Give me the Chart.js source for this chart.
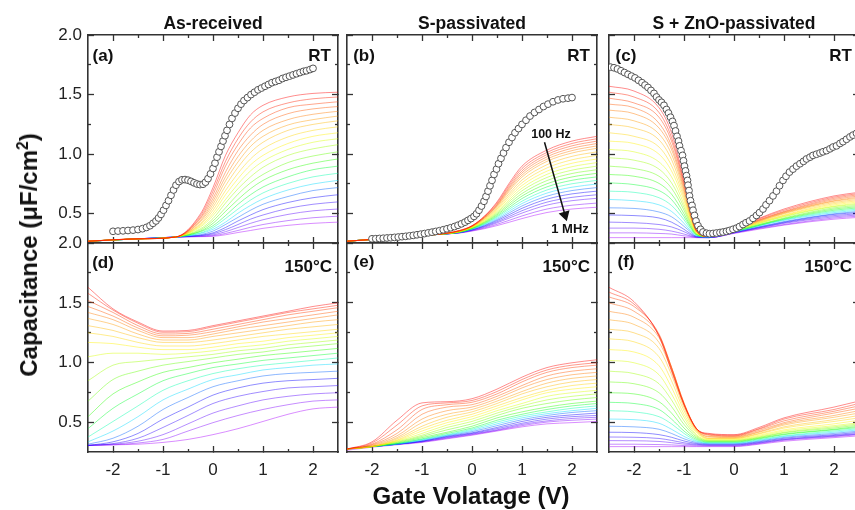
<!DOCTYPE html>
<html>
<head>
<meta charset="utf-8">
<script src="https://cdn.jsdelivr.net/npm/chart.js@4"></script>
<style>
    html, body { margin: 0; padding: 0; background: #fff; overflow: hidden; width: 855px; height: 510px; position: relative; font-family: "Liberation Sans", Arial, sans-serif; }
    canvas { position: absolute; }
    .t { position: absolute; font-weight: bold; color: #111; white-space: nowrap; line-height: 1; z-index: 5; }
    .c { transform: translate(-50%, -50%); }
    .r { transform: translateY(-50%); }
</style>
</head>
<body>
<div class="t c" style="left:213px;top:24px;font-size:17.5px">As-received</div>
<div class="t c" style="left:472px;top:24px;font-size:17.5px">S-passivated</div>
<div class="t c" style="left:734px;top:24px;font-size:17.5px">S + ZnO-passivated</div>

<div class="t c" style="left:103px;top:55px;font-size:17px">(a)</div>
<div class="t c" style="left:364px;top:55px;font-size:17px">(b)</div>
<div class="t c" style="left:626px;top:55px;font-size:17px">(c)</div>
<div class="t c" style="left:103px;top:262px;font-size:17px">(d)</div>
<div class="t c" style="left:364px;top:261px;font-size:17px">(e)</div>
<div class="t c" style="left:626px;top:261px;font-size:17px">(f)</div>

<div class="t r" style="right:524px;top:55px;font-size:17px">RT</div>
<div class="t r" style="right:265px;top:55px;font-size:17px">RT</div>
<div class="t r" style="right:3px;top:55px;font-size:17px">RT</div>
<div class="t r" style="right:523px;top:266px;font-size:17px">150°C</div>
<div class="t r" style="right:265px;top:266px;font-size:17px">150°C</div>
<div class="t r" style="right:3px;top:266px;font-size:17px">150°C</div>

<div class="t c" style="left:551px;top:134px;font-size:12.5px">100 Hz</div>
<div class="t c" style="left:570px;top:228px;font-size:13px">1 MHz</div>

<div class="t" style="left:28px;top:255px;font-size:24px;transform:translate(-50%,-50%) rotate(-90deg)">Capacitance (μF/cm<sup style="font-size:0.65em">2</sup>)</div>
<div class="t c" style="left:471px;top:496px;font-size:24px">Gate Volatage (V)</div>

<script>
// axis ticks
const xMajor = [-2, -1, 0, 1, 2];
const xMinor = [-1.5, -0.5, 0.5, 1.5];
const yMajor = [0.5, 1.0, 1.5, 2.0];
const yMinor = [0.75, 1.25, 1.75];

// (a) as-received, RT
const gridA = [-2.5, -1.5, -0.75, -0.25, 0, 0.25, 0.5, 0.75, 1, 1.5, 2, 2.5];
const curvesA = [
    [0.27,0.29,0.305,0.50,0.72,0.99,1.18,1.33,1.41,1.48,1.51,1.52],
    [0.27,0.29,0.305,0.485,0.69,0.94,1.13,1.27,1.355,1.43,1.465,1.48],
    [0.27,0.29,0.305,0.47,0.66,0.90,1.08,1.22,1.30,1.39,1.42,1.44],
    [0.27,0.29,0.305,0.46,0.63,0.85,1.03,1.16,1.25,1.34,1.38,1.40],
    [0.27,0.29,0.305,0.445,0.605,0.81,0.98,1.11,1.20,1.29,1.335,1.36],
    [0.27,0.29,0.305,0.435,0.58,0.775,0.935,1.065,1.15,1.245,1.29,1.32],
    [0.27,0.29,0.305,0.42,0.555,0.735,0.89,1.015,1.10,1.20,1.25,1.28],
    [0.27,0.29,0.305,0.41,0.53,0.695,0.84,0.96,1.045,1.145,1.20,1.23],
    [0.27,0.29,0.305,0.40,0.505,0.66,0.795,0.91,0.99,1.09,1.15,1.18],
    [0.27,0.29,0.305,0.39,0.485,0.62,0.75,0.86,0.94,1.04,1.10,1.13],
    [0.27,0.29,0.305,0.375,0.46,0.59,0.71,0.81,0.89,0.99,1.045,1.08],
    [0.27,0.29,0.305,0.365,0.44,0.55,0.665,0.76,0.83,0.93,0.985,1.02],
    [0.27,0.29,0.305,0.355,0.42,0.52,0.62,0.71,0.78,0.87,0.925,0.96],
    [0.27,0.29,0.305,0.35,0.40,0.485,0.58,0.66,0.725,0.81,0.87,0.90],
    [0.27,0.29,0.305,0.34,0.385,0.46,0.54,0.615,0.675,0.755,0.81,0.84],
    [0.27,0.29,0.305,0.335,0.37,0.43,0.505,0.57,0.625,0.70,0.75,0.78],
    [0.27,0.29,0.305,0.325,0.355,0.41,0.47,0.53,0.58,0.645,0.695,0.72],
    [0.27,0.29,0.305,0.32,0.34,0.385,0.44,0.49,0.535,0.595,0.635,0.66],
    [0.27,0.29,0.305,0.317,0.332,0.367,0.41,0.455,0.49,0.545,0.58,0.60],
    [0.27,0.29,0.305,0.313,0.323,0.35,0.385,0.42,0.45,0.495,0.525,0.54],
    [0.27,0.29,0.305,0.31,0.316,0.335,0.36,0.387,0.41,0.443,0.467,0.48],
    [0.27,0.29,0.305,0.308,0.311,0.324,0.343,0.36,0.378,0.403,0.42,0.43]
];
const circAx = [-2.0,-1.9,-1.8,-1.7,-1.6,-1.5,-1.41,-1.33,-1.26,-1.2,-1.14,-1.09,-1.04,-0.99,-0.94,-0.89,-0.84,-0.79,-0.74,-0.68,-0.62,-0.56,-0.5,-0.44,-0.38,-0.32,-0.26,-0.2,-0.15,-0.1,-0.05,0.0,0.04,0.08,0.12,0.16,0.2,0.24,0.28,0.33,0.38,0.44,0.5,0.56,0.62,0.69,0.76,0.83,0.9,0.97,1.04,1.11,1.18,1.25,1.32,1.39,1.46,1.53,1.6,1.67,1.74,1.81,1.87,1.94,2.0];
const circAy = [0.353,0.355,0.357,0.36,0.363,0.368,0.375,0.386,0.40,0.42,0.44,0.465,0.495,0.53,0.57,0.61,0.655,0.70,0.74,0.77,0.785,0.787,0.782,0.772,0.76,0.75,0.745,0.748,0.765,0.795,0.835,0.88,0.925,0.975,1.02,1.065,1.11,1.155,1.20,1.25,1.30,1.345,1.385,1.42,1.45,1.475,1.50,1.52,1.54,1.555,1.57,1.585,1.60,1.61,1.62,1.635,1.645,1.655,1.665,1.675,1.685,1.695,1.70,1.71,1.72];

// (b) S-passivated, RT
const gridB = [-2.5, -1.5, -0.75, -0.25, 0, 0.25, 0.5, 0.75, 1, 1.5, 2, 2.5];
const curvesB = [
    [0.27,0.30,0.325,0.36,0.40,0.48,0.60,0.76,0.90,1.035,1.11,1.15],
    [0.27,0.30,0.325,0.36,0.40,0.48,0.59,0.745,0.88,1.015,1.09,1.13],
    [0.27,0.30,0.325,0.357,0.398,0.475,0.58,0.73,0.86,0.997,1.07,1.11],
    [0.27,0.30,0.325,0.357,0.396,0.47,0.574,0.718,0.843,0.978,1.05,1.09],
    [0.27,0.30,0.325,0.356,0.395,0.467,0.567,0.705,0.825,0.959,1.03,1.07],
    [0.27,0.30,0.325,0.355,0.394,0.464,0.56,0.692,0.808,0.94,1.01,1.05],
    [0.27,0.30,0.325,0.353,0.392,0.458,0.55,0.673,0.784,0.912,0.982,1.02],
    [0.27,0.30,0.325,0.353,0.389,0.453,0.54,0.656,0.761,0.885,0.953,0.99],
    [0.27,0.30,0.325,0.351,0.388,0.448,0.53,0.639,0.738,0.858,0.924,0.96],
    [0.27,0.30,0.325,0.35,0.385,0.442,0.52,0.621,0.715,0.831,0.895,0.93],
    [0.27,0.30,0.325,0.349,0.383,0.437,0.51,0.605,0.693,0.805,0.866,0.90],
    [0.27,0.30,0.325,0.348,0.38,0.431,0.50,0.588,0.67,0.779,0.838,0.87],
    [0.27,0.30,0.325,0.347,0.378,0.426,0.491,0.572,0.649,0.752,0.809,0.84],
    [0.27,0.30,0.325,0.346,0.376,0.42,0.481,0.555,0.628,0.726,0.781,0.81],
    [0.27,0.30,0.325,0.345,0.374,0.415,0.472,0.54,0.606,0.70,0.752,0.78],
    [0.27,0.30,0.325,0.345,0.371,0.41,0.462,0.524,0.586,0.674,0.723,0.75],
    [0.27,0.30,0.325,0.343,0.369,0.404,0.452,0.509,0.566,0.648,0.695,0.72],
    [0.27,0.30,0.325,0.343,0.366,0.399,0.443,0.494,0.546,0.623,0.667,0.69],
    [0.27,0.30,0.325,0.342,0.364,0.394,0.433,0.479,0.526,0.598,0.638,0.66],
    [0.27,0.30,0.325,0.341,0.361,0.388,0.424,0.465,0.506,0.573,0.61,0.63],
    [0.27,0.30,0.325,0.34,0.358,0.381,0.412,0.446,0.482,0.54,0.572,0.59],
    [0.27,0.30,0.325,0.339,0.355,0.375,0.401,0.43,0.46,0.511,0.54,0.555]
];
const circBx = [-2.0,-1.925,-1.85,-1.775,-1.7,-1.625,-1.55,-1.475,-1.4,-1.325,-1.25,-1.175,-1.1,-1.025,-0.95,-0.875,-0.8,-0.725,-0.65,-0.575,-0.5,-0.425,-0.35,-0.28,-0.21,-0.14,-0.08,-0.02,0.04,0.09,0.14,0.19,0.24,0.28,0.32,0.36,0.40,0.44,0.49,0.53,0.58,0.63,0.68,0.74,0.80,0.86,0.93,1.0,1.08,1.16,1.25,1.34,1.43,1.52,1.62,1.72,1.82,1.92,2.0];
const circBy = [0.290,0.291,0.293,0.295,0.297,0.299,0.302,0.305,0.308,0.311,0.315,0.319,0.324,0.329,0.334,0.34,0.346,0.352,0.358,0.366,0.374,0.383,0.393,0.404,0.416,0.43,0.445,0.46,0.478,0.50,0.53,0.565,0.605,0.645,0.69,0.735,0.78,0.83,0.875,0.92,0.965,1.01,1.055,1.10,1.14,1.18,1.215,1.25,1.285,1.32,1.35,1.375,1.40,1.42,1.44,1.455,1.465,1.47,1.475];

// 100 Hz -> 1 MHz arrow in (b)
const arrowX = [1.45, 1.86];
const arrowY = [1.10, 0.49];

// (c) S + ZnO-passivated, RT
const gridC = [-2.5, -2, -1.5, -1.25, -1, -0.875, -0.75, -0.5, 0, 1, 2, 2.5];
const curvesC = [
    [1.57,1.53,1.39,1.18,0.78,0.54,0.36,0.31,0.38,0.54,0.65,0.68],
    [1.52,1.48,1.35,1.14,0.76,0.53,0.36,0.31,0.38,0.53,0.64,0.67],
    [1.47,1.43,1.31,1.11,0.745,0.52,0.36,0.31,0.375,0.52,0.63,0.66],
    [1.42,1.39,1.26,1.07,0.725,0.51,0.355,0.31,0.375,0.515,0.62,0.65],
    [1.37,1.34,1.22,1.04,0.705,0.50,0.355,0.31,0.37,0.51,0.61,0.64],
    [1.31,1.28,1.17,1.0,0.685,0.49,0.35,0.31,0.37,0.505,0.605,0.63],
    [1.25,1.22,1.12,0.955,0.66,0.48,0.35,0.31,0.365,0.50,0.595,0.62],
    [1.18,1.15,1.06,0.905,0.635,0.47,0.345,0.31,0.365,0.49,0.585,0.61],
    [1.11,1.09,1.0,0.86,0.61,0.455,0.34,0.31,0.365,0.485,0.575,0.60],
    [1.04,1.02,0.935,0.81,0.58,0.44,0.335,0.31,0.36,0.48,0.565,0.59],
    [0.97,0.95,0.875,0.76,0.555,0.43,0.335,0.31,0.36,0.475,0.56,0.58],
    [0.90,0.88,0.815,0.715,0.53,0.415,0.33,0.31,0.355,0.465,0.55,0.57],
    [0.83,0.815,0.755,0.665,0.50,0.40,0.325,0.31,0.355,0.46,0.54,0.56],
    [0.76,0.745,0.695,0.62,0.475,0.39,0.325,0.31,0.35,0.455,0.53,0.55],
    [0.69,0.68,0.635,0.57,0.45,0.375,0.32,0.305,0.35,0.45,0.52,0.54],
    [0.62,0.61,0.575,0.52,0.42,0.36,0.315,0.305,0.35,0.445,0.51,0.53],
    [0.55,0.545,0.515,0.475,0.395,0.35,0.31,0.305,0.345,0.435,0.50,0.52],
    [0.49,0.485,0.465,0.43,0.37,0.335,0.31,0.305,0.345,0.43,0.495,0.51],
    [0.43,0.425,0.41,0.39,0.35,0.325,0.305,0.30,0.34,0.425,0.485,0.50],
    [0.38,0.38,0.37,0.355,0.33,0.315,0.305,0.30,0.34,0.42,0.475,0.49],
    [0.34,0.34,0.335,0.33,0.315,0.31,0.30,0.30,0.34,0.41,0.465,0.48],
    [0.30,0.30,0.30,0.30,0.30,0.30,0.30,0.30,0.335,0.405,0.455,0.47]
];
const circCx = [-2.47,-2.40,-2.33,-2.26,-2.19,-2.12,-2.05,-1.98,-1.91,-1.84,-1.78,-1.72,-1.66,-1.60,-1.55,-1.50,-1.45,-1.40,-1.35,-1.31,-1.27,-1.23,-1.20,-1.17,-1.14,-1.11,-1.09,-1.06,-1.03,-1.01,-0.99,-0.97,-0.95,-0.93,-0.92,-0.90,-0.89,-0.87,-0.84,-0.82,-0.79,-0.76,-0.72,-0.67,-0.62,-0.55,-0.49,-0.42,-0.35,-0.28,-0.22,-0.15,-0.09,-0.02,0.05,0.11,0.18,0.24,0.31,0.38,0.45,0.51,0.58,0.64,0.71,0.78,0.85,0.91,0.98,1.04,1.11,1.18,1.25,1.32,1.39,1.45,1.52,1.58,1.65,1.72,1.78,1.85,1.92,1.98,2.05,2.12,2.18,2.25,2.32,2.38,2.45];
const circCy = [1.73,1.725,1.715,1.70,1.685,1.67,1.655,1.64,1.62,1.60,1.58,1.56,1.535,1.51,1.48,1.455,1.435,1.41,1.375,1.345,1.31,1.275,1.24,1.195,1.15,1.11,1.07,1.03,0.99,0.945,0.90,0.86,0.82,0.78,0.74,0.695,0.65,0.61,0.57,0.53,0.486,0.44,0.40,0.37,0.347,0.337,0.333,0.335,0.339,0.343,0.347,0.353,0.36,0.37,0.38,0.393,0.41,0.425,0.44,0.462,0.486,0.51,0.54,0.575,0.61,0.65,0.69,0.735,0.78,0.815,0.85,0.875,0.90,0.92,0.94,0.96,0.975,0.99,1.00,1.01,1.02,1.03,1.045,1.06,1.07,1.09,1.105,1.125,1.145,1.16,1.175];

// (d) as-received, 150 C
const gridD = [-2.5, -2, -1.5, -1, -0.5, 0, 0.5, 1, 1.5, 2, 2.5];
const curvesD = [
    [1.63,1.45,1.34,1.265,1.27,1.31,1.35,1.39,1.43,1.47,1.50],
    [1.58,1.44,1.33,1.255,1.26,1.30,1.34,1.38,1.42,1.45,1.48],
    [1.52,1.42,1.31,1.24,1.245,1.28,1.32,1.36,1.40,1.43,1.46],
    [1.47,1.39,1.29,1.225,1.23,1.26,1.30,1.34,1.37,1.40,1.43],
    [1.42,1.36,1.27,1.21,1.21,1.24,1.28,1.31,1.34,1.37,1.40],
    [1.37,1.32,1.24,1.19,1.19,1.22,1.25,1.28,1.31,1.34,1.36],
    [1.31,1.27,1.21,1.17,1.17,1.19,1.22,1.25,1.28,1.30,1.32],
    [1.25,1.22,1.17,1.14,1.14,1.16,1.19,1.22,1.24,1.26,1.28],
    [1.17,1.16,1.13,1.11,1.11,1.13,1.16,1.18,1.21,1.23,1.25],
    [1.05,1.08,1.08,1.07,1.08,1.10,1.13,1.15,1.18,1.20,1.22],
    [0.85,0.98,1.01,1.03,1.05,1.07,1.10,1.12,1.15,1.17,1.19],
    [0.68,0.86,0.93,0.98,1.01,1.04,1.07,1.09,1.12,1.14,1.16],
    [0.55,0.74,0.84,0.92,0.96,1.00,1.03,1.06,1.08,1.10,1.12],
    [0.45,0.62,0.74,0.85,0.91,0.96,0.99,1.02,1.04,1.06,1.08],
    [0.38,0.51,0.64,0.77,0.85,0.91,0.95,0.98,1.00,1.02,1.04],
    [0.34,0.43,0.55,0.69,0.78,0.86,0.90,0.94,0.96,0.98,0.99],
    [0.32,0.37,0.47,0.61,0.71,0.80,0.85,0.89,0.91,0.92,0.93],
    [0.31,0.34,0.41,0.53,0.63,0.73,0.79,0.83,0.85,0.86,0.87],
    [0.31,0.325,0.37,0.46,0.56,0.66,0.72,0.76,0.79,0.80,0.81],
    [0.31,0.32,0.345,0.40,0.49,0.58,0.64,0.69,0.72,0.74,0.75],
    [0.31,0.315,0.33,0.36,0.43,0.50,0.56,0.61,0.65,0.68,0.69],
    [0.31,0.315,0.32,0.335,0.36,0.40,0.45,0.51,0.57,0.615,0.63]
];

// (e) S-passivated, 150 C
const gridE = [-2.5, -2, -1.5, -1, -0.5, 0, 0.5, 1, 1.5, 2, 2.5];
const curvesE = [
    [0.28,0.34,0.52,0.665,0.675,0.70,0.78,0.88,0.96,1.00,1.025],
    [0.28,0.33,0.48,0.64,0.665,0.685,0.76,0.86,0.94,0.98,1.00],
    [0.28,0.32,0.44,0.61,0.65,0.67,0.74,0.84,0.92,0.96,0.98],
    [0.28,0.315,0.41,0.57,0.63,0.65,0.72,0.81,0.89,0.93,0.95],
    [0.28,0.31,0.39,0.53,0.60,0.63,0.70,0.79,0.86,0.90,0.92],
    [0.28,0.305,0.375,0.50,0.57,0.61,0.68,0.76,0.83,0.87,0.89],
    [0.28,0.30,0.365,0.47,0.545,0.59,0.66,0.74,0.80,0.84,0.86],
    [0.28,0.30,0.355,0.45,0.52,0.57,0.64,0.71,0.77,0.81,0.83],
    [0.28,0.30,0.35,0.43,0.50,0.55,0.62,0.69,0.75,0.78,0.80],
    [0.28,0.30,0.345,0.41,0.48,0.53,0.60,0.66,0.72,0.75,0.77],
    [0.28,0.30,0.34,0.395,0.46,0.51,0.58,0.64,0.69,0.72,0.74],
    [0.28,0.30,0.335,0.385,0.44,0.49,0.56,0.62,0.66,0.69,0.71],
    [0.28,0.30,0.33,0.375,0.42,0.47,0.54,0.59,0.63,0.66,0.68],
    [0.28,0.30,0.325,0.365,0.41,0.455,0.52,0.57,0.61,0.64,0.66],
    [0.28,0.30,0.325,0.36,0.40,0.445,0.505,0.555,0.59,0.62,0.64],
    [0.28,0.30,0.32,0.355,0.395,0.435,0.49,0.54,0.575,0.60,0.62],
    [0.28,0.30,0.32,0.35,0.39,0.425,0.475,0.525,0.56,0.585,0.60],
    [0.28,0.30,0.32,0.345,0.385,0.415,0.46,0.51,0.545,0.565,0.58],
    [0.28,0.30,0.32,0.345,0.38,0.41,0.45,0.495,0.53,0.55,0.56],
    [0.28,0.30,0.32,0.34,0.375,0.405,0.44,0.485,0.515,0.535,0.545],
    [0.28,0.30,0.32,0.34,0.37,0.40,0.435,0.475,0.505,0.52,0.53],
    [0.27,0.295,0.315,0.335,0.365,0.395,0.43,0.465,0.49,0.50,0.51]
];

// (f) S + ZnO-passivated, 150 C
const gridF = [-2.5, -2, -1.5, -1.25, -1, -0.75, -0.5, 0, 0.5, 1, 2, 2.5];
const curvesF = [
    [1.63,1.51,1.22,0.93,0.65,0.45,0.41,0.40,0.46,0.54,0.63,0.68],
    [1.59,1.49,1.23,0.945,0.65,0.45,0.405,0.395,0.45,0.53,0.61,0.66],
    [1.55,1.47,1.24,0.96,0.66,0.45,0.40,0.39,0.445,0.515,0.595,0.64],
    [1.50,1.43,1.23,0.965,0.665,0.45,0.395,0.385,0.435,0.50,0.58,0.62],
    [1.43,1.38,1.21,0.96,0.66,0.445,0.385,0.38,0.425,0.49,0.56,0.60],
    [1.36,1.32,1.17,0.94,0.645,0.44,0.38,0.375,0.42,0.48,0.545,0.58],
    [1.28,1.25,1.12,0.90,0.625,0.435,0.37,0.37,0.41,0.465,0.525,0.56],
    [1.20,1.175,1.05,0.85,0.60,0.425,0.367,0.367,0.405,0.455,0.51,0.54],
    [1.11,1.09,0.975,0.795,0.57,0.415,0.362,0.362,0.395,0.44,0.49,0.52],
    [1.02,1.0,0.90,0.74,0.545,0.40,0.357,0.357,0.387,0.43,0.475,0.50],
    [0.93,0.91,0.825,0.69,0.515,0.39,0.352,0.352,0.38,0.42,0.465,0.49],
    [0.84,0.825,0.75,0.635,0.485,0.38,0.348,0.348,0.375,0.415,0.455,0.48],
    [0.75,0.74,0.675,0.58,0.455,0.37,0.343,0.343,0.37,0.405,0.445,0.47],
    [0.67,0.66,0.61,0.53,0.43,0.36,0.338,0.338,0.365,0.40,0.44,0.46],
    [0.60,0.59,0.55,0.49,0.41,0.35,0.333,0.333,0.358,0.39,0.43,0.45],
    [0.53,0.525,0.495,0.445,0.385,0.343,0.329,0.329,0.352,0.385,0.42,0.44],
    [0.47,0.465,0.445,0.41,0.365,0.334,0.324,0.324,0.346,0.377,0.41,0.43],
    [0.42,0.417,0.40,0.378,0.347,0.326,0.319,0.319,0.34,0.37,0.40,0.42],
    [0.38,0.378,0.368,0.352,0.332,0.319,0.314,0.314,0.334,0.362,0.393,0.41],
    [0.35,0.349,0.343,0.333,0.321,0.313,0.31,0.31,0.33,0.358,0.388,0.405],
    [0.32,0.32,0.317,0.314,0.309,0.306,0.305,0.305,0.325,0.353,0.383,0.40],
    [0.30,0.30,0.30,0.30,0.30,0.30,0.30,0.30,0.32,0.345,0.375,0.39]
];

const X_MIN = -2.5, X_MAX = 2.5, Y_MIN = 0.255, Y_MAX = 2.0;
const FRAME = '#333';
const TICK_FONT = { family: '"Liberation Sans", Arial, sans-serif', size: 17 };

// red -> orange -> yellow -> green -> blue -> violet
function rainbow(i, n) {
    const stops = [0, 30, 60, 120, 240, 280];
    const s = (i / (n - 1)) * (stops.length - 1);
    const k = Math.min(Math.floor(s), stops.length - 2);
    const h = stops[k] + (stops[k + 1] - stops[k]) * (s - k);
    return `hsla(${h.toFixed(0)},100%,50%,0.45)`;
}

// size: room kept for tick labels (0 = no labels, axis sits on the frame)
function makeAxis(pos, vals, len, size, showBorder) {
    const horizontal = pos === 'top' || pos === 'bottom';
    return {
        type: 'linear',
        position: pos,
        weight: size > 0 ? 1 : 0,
        min: horizontal ? X_MIN : Y_MIN,
        max: horizontal ? X_MAX : Y_MAX,
        afterBuildTicks: s => { s.ticks = vals.map(v => ({ value: v })); },
        afterFit: s => {
            if (horizontal) s.height = size; else s.width = size;
            s.paddingTop = s.paddingBottom = s.paddingLeft = s.paddingRight = 0;
        },
        grid: { display: true, drawOnChartArea: false, drawTicks: true, tickLength: -len, tickColor: FRAME, tickWidth: 1.3 },
        border: { display: showBorder, color: FRAME, width: 1.6 },
        ticks: {
            display: size > 0,
            autoSkip: false,
            maxRotation: 0,
            padding: horizontal ? len + 8 : len + 6,
            color: '#222',
            font: TICK_FONT,
            callback: v => horizontal ? String(v) : v.toFixed(1)
        }
    };
}

function makePanel(p) {
    const W = 250;
    const ySize = p.yLabels ? 56 : 0, xSize = p.xLabels ? 32 : 0;
    const padL = p.yLabels ? 4 : 12, padR = 12, padT = 12, padB = p.xLabels ? 4 : 12;
    const canvas = document.createElement('canvas');
    canvas.width = W + padL + ySize + padR;
    canvas.height = p.h + padT + padB + xSize;
    canvas.style.left = (p.left - padL - ySize) + 'px';
    canvas.style.top = (p.top - padT) + 'px';
    document.body.appendChild(canvas);

    const datasets = [];
    // circles first so they are drawn on top
    if (p.cx) {
        datasets.push({
            data: p.cx.map((x, i) => ({ x, y: p.cy[i] })),
            showLine: false,
            pointRadius: 3.4,
            pointBorderColor: '#555',
            pointBackgroundColor: '#fff',
            pointBorderWidth: 1
        });
    }
    if (p.arrow) {
        datasets.push({
            data: arrowX.map((x, i) => ({ x, y: arrowY[i] })),
            borderColor: '#111',
            borderWidth: 1.5,
            pointRadius: [0, 5],
            pointStyle: 'triangle',
            rotation: 164,
            pointBackgroundColor: '#111',
            pointBorderColor: '#111'
        });
    }
    p.curves.forEach((row, i) => {
        datasets.push({
            data: p.grid.map((x, k) => ({ x, y: row[k] })),
            borderColor: rainbow(i, p.curves.length),
            borderWidth: 1,
            pointRadius: 0,
            cubicInterpolationMode: 'monotone',
            fill: false
        });
    });

    return new Chart(canvas, {
        type: 'line',
        data: { datasets },
        options: {
            responsive: false,
            devicePixelRatio: 1,
            animation: false,
            events: [],
            layout: { padding: { left: padL, right: padR, top: padT, bottom: padB } },
            plugins: { legend: { display: false }, tooltip: { enabled: false } },
            scales: {
                x: makeAxis('bottom', xMajor, 6, xSize, true),
                x2: makeAxis('bottom', xMinor, 3, 0, false),
                xt: makeAxis('top', xMajor, 6, 0, true),
                xt2: makeAxis('top', xMinor, 3, 0, false),
                y: makeAxis('left', yMajor, 6, ySize, true),
                y2: makeAxis('left', yMinor, 3, 0, false),
                yr: makeAxis('right', yMajor, 6, 0, true),
                yr2: makeAxis('right', yMinor, 3, 0, false)
            }
        }
    });
}

const panels = [
    { left: 88, top: 35, h: 208, grid: gridA, curves: curvesA, cx: circAx, cy: circAy, yLabels: true, xLabels: false },
    { left: 347, top: 35, h: 208, grid: gridB, curves: curvesB, cx: circBx, cy: circBy, arrow: true, yLabels: false, xLabels: false },
    { left: 609, top: 35, h: 208, grid: gridC, curves: curvesC, cx: circCx, cy: circCy, yLabels: false, xLabels: false },
    { left: 88, top: 243, h: 209, grid: gridD, curves: curvesD, yLabels: true, xLabels: true },
    { left: 347, top: 243, h: 209, grid: gridE, curves: curvesE, yLabels: false, xLabels: true },
    { left: 609, top: 243, h: 209, grid: gridF, curves: curvesF, yLabels: false, xLabels: true }
];

panels.forEach(makePanel);
</script>
</body>
</html>
